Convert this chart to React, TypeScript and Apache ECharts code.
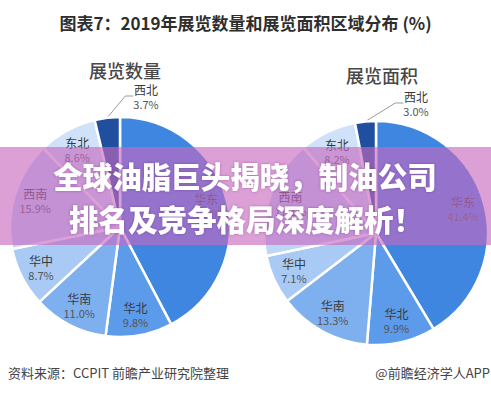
import React, { useEffect, useRef } from "react";
import * as echarts from "echarts";

const regions = ["华东", "华北", "华南", "华中", "西南", "东北", "西北"];
const countShare = [42.3, 9.8, 11.0, 8.7, 15.9, 8.6, 3.7];
const areaShare = [41.4, 9.9, 13.3, 7.1, 17.1, 8.2, 3.0];
const sliceColors = ["#3f86e0", "#5c9aea", "#7eb0ef", "#a8caf5", "#bcd6f7", "#cfe2fa", "#1f4f9e"];

const titleText = "图表7：2019年展览数量和展览面积区域分布 (%)";
const leftTitle = "展览数量";
const rightTitle = "展览面积";
const overlayLines = ["全球油脂巨头揭晓，制油公司", "排名及竞争格局深度解析！"];
const sourceText = "资料来源：CCPIT 前瞻产业研究院整理";
const brandText = "@前瞻经济学人APP";

const FONT = "'Noto Sans CJK SC', 'Noto Sans', sans-serif";

function mainPie(values: number[], center: number[], r: number) {
  return {
    type: "pie",
    silent: true,
    startAngle: 90,
    clockwise: true,
    center,
    radius: [0, r],
    label: { show: false },
    labelLine: { show: false },
    itemStyle: { borderColor: "#ffffff", borderWidth: 2.5 },
    data: regions.map((n, i) => ({ name: n, value: values[i], itemStyle: { color: sliceColors[i] } })),
  };
}

function labelPie(values: number[], center: number[], r: number, outsidePos: number[]) {
  return {
    type: "pie",
    silent: true,
    startAngle: 90,
    clockwise: true,
    center,
    radius: [r * 0.56, r],
    itemStyle: { color: "rgba(0,0,0,0)", borderWidth: 0 },
    label: {
      show: true,
      position: "inside",
      fontFamily: FONT,
      formatter: (p: any) => `{n|${p.name}}\n{p|${Number(p.value).toFixed(1)}%}`,
      rich: {
        n: { fontSize: 12, color: "#3a3a3a", fontFamily: FONT, lineHeight: 15, align: "center" },
        p: { fontSize: 11, color: "#555555", fontFamily: FONT, lineHeight: 14, align: "center" },
      },
    },
    labelLine: { show: false },
    labelLayout: (params: any) => {
      if (params.dataIndex === regions.length - 1) {
        return { x: outsidePos[0], y: outsidePos[1], align: "center", verticalAlign: "middle" };
      }
      return {};
    },
    data: regions.map((n, i) => {
      const d: any = { name: n, value: values[i] };
      if (i === regions.length - 1) {
        d.label = { position: "outside" };
        d.labelLine = { show: true, length: 6, length2: 8, lineStyle: { color: "#9a9a9a", width: 1 } };
      }
      return d;
    }),
  };
}

export default function App() {
  const ref = useRef<HTMLDivElement>(null);
  useEffect(() => {
    if (!ref.current) return;
    const chart = echarts.init(ref.current, undefined, { renderer: "svg" });
    chart.setOption({
      animation: false,
      backgroundColor: "#ffffff",
      title: [
        {
          text: titleText,
          left: "center",
          top: 9,
          textStyle: { fontFamily: FONT, fontSize: 17, fontWeight: "bold", color: "#2e2e2e" },
        },
        {
          text: leftTitle,
          left: 120,
          top: 56,
          textAlign: "center",
          textStyle: { fontFamily: FONT, fontSize: 18, fontWeight: 500, color: "#484848" },
        },
        {
          text: rightTitle,
          left: 377,
          top: 61,
          textAlign: "center",
          textStyle: { fontFamily: FONT, fontSize: 18, fontWeight: 500, color: "#484848" },
        },
      ],
      series: [
        mainPie(countShare, [120, 227], 110),
        labelPie(countShare, [120, 227], 110, [146, 96]),
        mainPie(areaShare, [376, 233], 112),
        labelPie(areaShare, [376, 233], 112, [416, 103]),
      ],
      graphic: [
        {
          type: "rect",
          z: 100,
          shape: { x: 0, y: 147, width: 491, height: 98 },
          style: { fill: "rgba(200,105,192,0.63)" },
          silent: true,
        },
        {
          type: "text",
          z: 101,
          x: 245,
          y: 175,
          style: {
            text: overlayLines[0],
            fill: "#ffffff",
            fontFamily: FONT,
            fontSize: 29.5,
            fontWeight: 900,
            align: "center",
            verticalAlign: "middle",
            textShadowColor: "rgba(80,30,90,0.35)",
            textShadowBlur: 3,
          },
          silent: true,
        },
        {
          type: "text",
          z: 101,
          x: 246,
          y: 218,
          style: {
            text: overlayLines[1],
            fill: "#ffffff",
            fontFamily: FONT,
            fontSize: 29.5,
            fontWeight: 900,
            align: "center",
            verticalAlign: "middle",
            textShadowColor: "rgba(80,30,90,0.35)",
            textShadowBlur: 3,
          },
          silent: true,
        },
        {
          type: "text",
          z: 101,
          x: 8,
          y: 372,
          style: {
            text: sourceText,
            fill: "#444444",
            fontFamily: FONT,
            fontSize: 13,
            align: "left",
            verticalAlign: "middle",
          },
          silent: true,
        },
        {
          type: "text",
          z: 101,
          x: 490,
          y: 372,
          style: {
            text: brandText,
            fill: "#444444",
            fontFamily: FONT,
            fontSize: 13,
            align: "right",
            verticalAlign: "middle",
          },
          silent: true,
        },
      ],
    });
    return () => chart.dispose();
  }, []);
  return <div ref={ref} style={{ position: "fixed", left: 0, top: 0, width: 491, height: 393 }} />;
}
